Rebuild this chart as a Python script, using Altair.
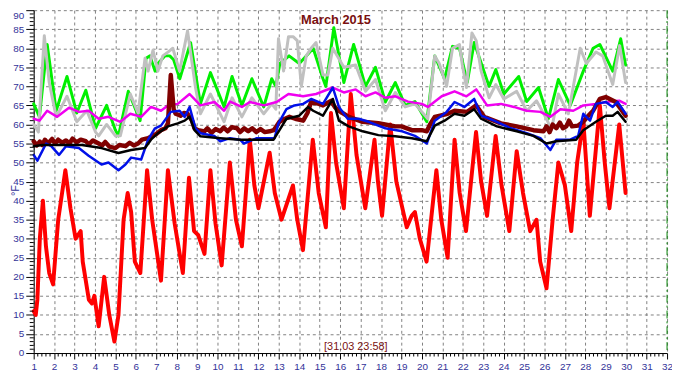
import altair as alt
import pandas as pd

# ---------------- data ----------------
red_day = [1.0, 1.1, 1.18, 1.3, 1.45, 1.6, 1.76, 1.95, 2.2, 2.55, 2.8, 3.05, 3.3, 3.4, 3.7, 3.85, 3.97,
           4.18, 4.45, 4.7, 4.95, 5.15, 5.4, 5.6, 5.77, 5.95, 6.22, 6.55, 6.8, 7.23, 7.57, 7.9, 8.3, 8.6,
           8.85, 9.05, 9.36, 9.65, 9.9, 10.2, 10.6, 10.9, 11.19, 11.58, 11.8, 12.0, 12.55, 12.8, 13.13,
           13.69, 13.9, 14.18, 14.66, 14.95, 15.3, 15.55, 15.8, 16.18, 16.52, 16.8, 17.23, 17.68, 17.85,
           18.05, 18.45, 18.75, 19.26, 19.5, 19.66, 19.9, 20.23, 20.71, 20.95, 21.26, 21.6, 21.85, 22.16,
           22.65, 22.9, 23.19, 23.61, 23.9, 24.28, 24.64, 24.95, 25.3, 25.61, 25.79, 26.1, 26.4, 26.68,
           27.0, 27.31, 27.6, 27.9, 28.22, 28.71, 28.95, 29.18, 29.66, 29.97]
red_val = [11, 10, 14, 30, 40, 28, 21, 18, 35, 48, 38, 30, 32, 24, 14, 13, 15,
           7, 20, 10, 3, 10, 35, 42, 37, 24, 21, 48, 35, 19, 48, 34, 21, 46,
           32, 31, 26, 48, 34, 23, 50, 35, 28, 56, 44, 38, 52.6, 42, 35,
           44, 35, 27, 56, 42, 33, 63, 50, 38, 68, 52, 38, 56, 45,
           36, 60, 45, 33, 36, 37, 30, 24, 48, 35, 25, 56, 42, 32,
           58, 45, 36, 57, 44, 32, 53, 42, 32, 35, 24, 17, 35, 50,
           44, 32, 50, 61, 36, 65, 50, 38, 60, 42]

green_day = [1.0, 1.28, 1.66, 2.1, 2.63, 3.11, 3.55, 4.03, 4.57, 5.0, 5.15, 5.63, 6.21, 6.5, 6.69, 6.94,
             7.08, 7.42, 7.66, 7.85, 8.15, 8.68, 9.16, 9.65, 10.32, 10.71, 11.19, 11.68, 12.26, 12.65,
             12.85, 13.05, 13.5, 14.0, 14.34, 14.68, 15.16, 15.3, 15.69, 16.18, 16.66, 17.24, 17.73,
             18.21, 18.7, 19.18, 19.66, 20.24, 20.63, 21.11, 21.5, 21.84, 22.22, 22.56, 23.29, 23.62,
             24.01, 24.74, 25.13, 25.71, 26.19, 26.68, 27.26, 27.9, 28.38, 28.71, 29.34, 29.73, 29.97]
green_val = [65.4, 62, 81, 63.6, 72.6, 63, 69, 59, 65, 58.5, 57, 68.7, 61, 77.4, 78, 74,
             76, 78, 78, 77, 72, 81.5, 65.4, 73.6, 64.6, 72.6, 65, 72, 64.6, 72,
             70, 76, 78, 76, 78, 80, 72, 70, 85.4, 71, 81, 70, 75,
             65.9, 71, 65, 66, 60.7, 78, 72, 80.5, 80, 71, 81.5, 70, 74.4,
             68, 72.6, 66, 69.7, 61.5, 71.8, 65, 74, 80, 81, 74, 82.5, 75.6]

gray_day = [1.0, 1.23, 1.52, 1.76, 2.1, 2.63, 3.11, 3.6, 4.03, 4.18, 4.57, 5.0, 5.24, 5.73, 6.11, 6.45,
            6.6, 6.84, 7.08, 7.32, 7.57, 7.81, 8.14, 8.53, 8.92, 9.16, 9.65, 10.32, 10.71, 11.19, 11.68,
            12.26, 12.65, 12.85, 12.98, 13.23, 13.47, 13.71, 13.9, 14.1, 14.34, 14.58, 14.82, 15.16,
            15.4, 15.64, 16.18, 16.76, 17.24, 17.73, 18.21, 18.7, 19.18, 19.66, 20.29, 20.63, 20.85,
            21.21, 21.5, 21.84, 21.98, 22.18, 22.45, 22.66, 22.9, 23.29, 23.62, 24.01, 24.64, 25.13,
            25.61, 26.1, 26.34, 26.68, 27.17, 27.75, 28.05, 28.52, 28.85, 29.34, 29.68, 29.97]
gray_val = [60, 58, 83.3, 71, 62, 67.4, 60.7, 63.6, 58, 57, 60, 57, 57, 68, 63, 77.4,
            74, 79.5, 74, 78, 79, 80, 74, 84.6, 69.7, 62.8, 68, 60.7, 67, 62, 67,
            62.8, 65.4, 64, 82.5, 74, 83, 83, 82, 70, 78, 80, 81.5, 73,
            73, 80, 75, 75.6, 68.7, 71.8, 63.6, 68.4, 64.6, 65.4, 61.5, 78, 76,
            70, 80, 81, 75.6, 69.7, 84, 82, 74, 67, 70.5, 66.7, 68.7, 63.6,
            66.2, 61.5, 58.5, 68, 62.8, 80, 76, 79, 78, 70.5, 80.7, 71]

magenta_day = [1.0, 1.28, 1.66, 2.15, 2.73, 3.21, 3.69, 4.18, 4.66, 5.24, 5.73, 6.26, 6.74, 7.23, 7.57,
               8.05, 8.63, 9.16, 9.84, 10.32, 10.61, 11.19, 11.58, 12.26, 12.89, 13.47, 14.19, 14.82,
               15.64, 16.18, 16.76, 17.24, 17.73, 18.21, 18.7, 19.32, 20.0, 20.29, 20.97, 21.6, 22.18,
               22.66, 23.19, 23.87, 24.5, 25.13, 25.8, 26.29, 26.78, 27.41, 27.9, 28.52, 29.2, 29.68, 29.97]
magenta_val = [61.5, 61, 63.6, 62, 64.4, 63.3, 63.6, 61.5, 62, 60.7, 62.8, 62, 64.6, 63.6, 65,
               65.4, 68, 65, 65.9, 63.6, 66, 64.6, 65.9, 65, 65.9, 68, 67.4, 68,
               69.7, 68.4, 69.2, 67.4, 68.4, 67, 67.4, 66, 65.4, 64.6, 67.4, 68.7, 67.4,
               69.2, 65, 65.4, 64.6, 63.6, 63.3, 62, 64, 63.6, 65, 65.4, 66, 66.2, 65.4]

blue_day = [1.0, 1.18, 1.61, 1.86, 2.24, 2.58, 3.21, 3.69, 4.32, 4.66, 5.15, 5.49, 5.77, 6.26, 6.6, 6.94,
            7.23, 7.71, 8.14, 8.39, 8.63, 8.92, 9.16, 9.84, 10.13, 10.61, 11.1, 11.29, 11.92, 12.79,
            12.98, 13.37, 13.76, 14.19, 14.58, 15.16, 15.64, 15.94, 16.37, 16.9, 17.39, 18.21, 19.04,
            19.66, 20.24, 20.63, 21.21, 21.6, 22.08, 22.56, 22.9, 23.53, 24.35, 25.13, 25.8, 26.29,
            26.58, 27.26, 27.65, 27.9, 28.23, 28.52, 29.0, 29.34, 29.58, 29.97]
blue_val = [52, 50.5, 55, 54.3, 52, 54.3, 53.8, 51.8, 49.5, 50, 48, 49.5, 51.3, 50.8, 56, 59,
            59.7, 63.3, 63.6, 62, 64.6, 59, 57.7, 57, 55.6, 56.4, 56, 55, 56.4, 56.4,
            60.3, 64, 65, 65.4, 66.7, 65.4, 69.7, 64.6, 61.5, 61.5, 60.7, 59, 58.2,
            57, 55, 61, 63.3, 65.9, 64.6, 66.7, 62.3, 61, 59, 57.7, 56.4, 53.3,
            56, 56, 57, 62.8, 61, 65.4, 65.9, 64.6, 65.9, 62.8]

black_day = [1.0, 1.42, 2.58, 3.36, 4.32, 5.15, 5.77, 6.45, 6.74, 7.08, 7.57, 8.05, 8.39, 8.63, 8.87,
             9.16, 10.13, 11.1, 12.74, 13.03, 13.37, 14.0, 14.43, 14.68, 15.16, 15.64, 15.94, 16.42,
             17.1, 17.87, 18.7, 19.51, 20.24, 20.63, 21.11, 21.6, 22.08, 22.56, 22.9, 23.67, 24.64,
             25.46, 26.1, 26.58, 27.55, 27.9, 28.52, 29.0, 29.34, 29.58, 29.97]
black_val = [54.3, 54.6, 54.6, 54.6, 53.8, 52.5, 53.3, 53.8, 56, 57.7, 59.5, 60.3, 61, 62, 58.5,
             56.9, 56.4, 56, 56, 58.5, 61.5, 62.3, 64.6, 63.6, 62.3, 66.7, 61, 59.5,
             58.2, 57.2, 56.9, 56.4, 55.6, 59.7, 61, 62.8, 62.3, 64, 61.5, 59.5, 58.2,
             57, 55, 55.6, 56, 58.5, 60.7, 62.3, 62.3, 63.3, 60.7]

maroon_day = [1.0, 1.15, 1.3, 1.42, 1.55, 1.7, 1.9, 2.05, 2.2, 2.4, 2.58, 2.75, 2.9, 3.1, 3.3, 3.55,
              3.7, 3.9, 4.18, 4.35, 4.5, 4.7, 5.0, 5.2, 5.49, 5.7, 5.9, 6.11, 6.3, 6.6, 6.8, 7.0, 7.23,
              7.45, 7.57, 7.71, 7.85, 7.95, 8.19, 8.35, 8.53, 8.75, 8.87, 9.05, 9.36, 9.5, 9.7, 9.9,
              10.13, 10.3, 10.5, 10.7, 10.95, 11.1, 11.3, 11.5, 11.7, 11.9, 12.1, 12.3, 12.55, 12.75,
              13.03, 13.3, 13.52, 13.8, 14.19, 14.4, 14.58, 14.9, 15.16, 15.55, 15.75, 15.94, 16.42,
              17.1, 17.87, 18.2, 18.7, 19.0, 19.51, 20.0, 20.24, 20.4, 20.63, 21.26, 21.6, 22.22,
              22.66, 23.05, 23.87, 24.64, 25.46, 25.95, 26.1, 26.25, 26.4, 26.58, 26.75, 26.9, 27.07,
              27.2, 27.35, 27.65, 27.9, 28.1, 28.38, 28.71, 29.0, 29.49, 29.97]
maroon_val = [55.6, 54.5, 55.5, 54.6, 56, 55, 56.2, 55, 56, 55.2, 55.8, 55, 56.3, 55.3, 56, 55.6,
              54.8, 55.8, 55, 54.5, 55.4, 54.2, 53.8, 54.6, 54.3, 55.2, 54.5, 55, 56, 56.4, 57, 57.5, 58.5,
              59, 60.3, 73, 64, 62.8, 62.3, 63, 62.8, 61, 59, 58.5, 58.2, 59, 57.8, 58.8,
              58.2, 59.2, 58.2, 59.3, 59, 58, 59, 58.2, 59, 58, 58.8, 58, 58.2, 58.5,
              60.7, 61.5, 62, 61.5, 61, 63, 65.9, 65.5, 65, 66.2, 64.5, 63.6, 62,
              60.7, 60.3, 60, 59.5, 59.5, 58.5, 58.5, 58.2, 60, 62, 62.8, 63.6, 63.3,
              65, 62, 60.3, 59.5, 58.5, 58.2, 59.5, 58, 60, 59, 60.5, 59, 59.5,
              61, 59.5, 59.7, 60.7, 62, 63.6, 66.7, 67.2, 65.9, 62.3]

x_ticks = list(range(1, 33))
y_ticks = list(range(0, 91, 5))
title_text = "March 2015"
cursor_text = "[31.03 23:58]"
cursor_day = [32]

# ---------------- layout / style ----------------
W, H = 641, 347
NAVY = "#333399"
LABEL_FONT = "Liberation Sans"

xscale = alt.Scale(domain=[1, 32], nice=False, zero=False)
yscale = alt.Scale(domain=[0, 90], nice=False, zero=False)

x_axis = alt.Axis(values=x_ticks, grid=True, gridColor="#808080", gridDash=[3, 3], gridWidth=1,
                  domainColor="#000000", domainWidth=1, tickColor="#000000", tickSize=6,
                  labelColor=NAVY, labelFont=LABEL_FONT, labelFontSize=10, labelPadding=3,
                  labelOverlap=False, labelFlush=False, title=None)
y_axis = alt.Axis(values=y_ticks, grid=True, gridColor="#808080", gridDash=[3, 3], gridWidth=1,
                  domainColor="#000000", domainWidth=1, tickColor="#000000", tickSize=8,
                  labelColor=NAVY, labelFont=LABEL_FONT, labelFontSize=10, labelPadding=2,
                  labelOverlap=False, labelFlush=False,
                  labelBaseline=alt.condition("datum.value == 90", alt.value("top"), alt.value("middle")),
                  title="°F", titleColor=NAVY, titleFont=LABEL_FONT, titleFontSize=11,
                  titleFontWeight="normal", titleX=-15, titleY=182, titleAngle=270,
                  titleAlign="center", titleBaseline="alphabetic")

X = alt.X("day:Q", scale=xscale, axis=x_axis)
Y = alt.Y("val:Q", scale=yscale, axis=y_axis)


def line_layer(days, vals, color, width):
    df = pd.DataFrame({"day": days, "val": vals})
    return alt.Chart(df).mark_line(color=color, strokeWidth=width, strokeJoin="round",
                                   strokeCap="round").encode(x=X, y=Y)


y_minor = pd.DataFrame({"val": [v for v in range(0, 91) if v % 5 != 0]})
x_minor = pd.DataFrame({"day": [round(1 + i * 0.2, 2) for i in range(0, 156) if i % 5 != 0]})

y_minor_layer = alt.Chart(y_minor).mark_rule(color="#000000", strokeWidth=1).encode(
    y=Y, x=alt.value(-4), x2=alt.value(0))
x_minor_layer = alt.Chart(x_minor).mark_rule(color="#000000", strokeWidth=1).encode(
    x=X, y=alt.value(H), y2=alt.value(H + 3.5))

cursor_layer = alt.Chart(pd.DataFrame({"day": cursor_day})).mark_rule(
    color="#008000", strokeWidth=1, strokeDash=[8, 3, 2, 3]).encode(
    x=X, y=alt.value(0), y2=alt.value(H))

title_layer = alt.Chart(pd.DataFrame({"t": [title_text]})).mark_text(
    font=LABEL_FONT, fontSize=13, fontWeight="bold", color="#7a1010", baseline="middle",
    align="center").encode(x=alt.value(306), y=alt.value(10), text="t:N")

cursor_text_layer = alt.Chart(pd.DataFrame({"t": [cursor_text]})).mark_text(
    font=LABEL_FONT, fontSize=11, color="#7a1010", baseline="middle",
    align="center").encode(x=alt.value(326), y=alt.value(341), text="t:N")

chart = alt.layer(
    line_layer(green_day, green_val, "#00f000", 3),
    line_layer(gray_day, gray_val, "#c0c0c0", 3),
    line_layer(magenta_day, magenta_val, "#f000f0", 2.5),
    line_layer(red_day, red_val, "#ff0000", 4),
    line_layer(maroon_day, maroon_val, "#800000", 4.5),
    line_layer(blue_day, blue_val, "#0010e8", 2.5),
    line_layer(black_day, black_val, "#000000", 2.5),
    y_minor_layer,
    x_minor_layer,
    cursor_layer,
    title_layer,
    cursor_text_layer,
).properties(
    width=W, height=H,
    autosize=alt.AutoSizeParams(type="none"),
    padding={"left": 26, "top": 0, "right": 5, "bottom": 17},
    background="white",
).configure_view(stroke=None)

chart.save("out.html", embed_options={"renderer": "svg", "actions": False})
